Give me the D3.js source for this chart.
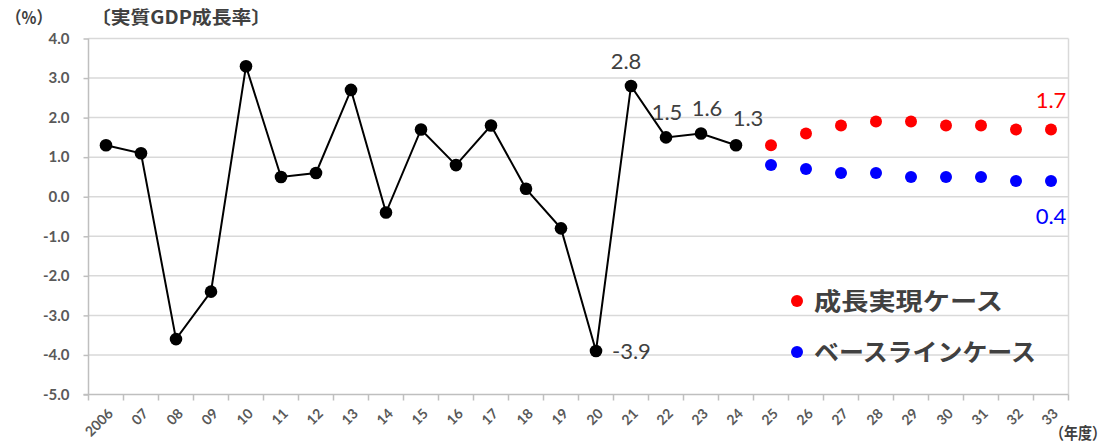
<!DOCTYPE html>
<html>
<head>
<meta charset="utf-8">
<title>実質GDP成長率</title>
<script src="https://cdn.jsdelivr.net/npm/d3@7/dist/d3.min.js"></script>
<style>
  body { margin: 0; background: #fff; }
  .grid line { stroke: #d9d9d9; stroke-width: 1.5; }
  .axis path, .axis line { stroke: #bfbfbf; stroke-width: 1.5; }
  .axis text { font-family: Lato, "Noto Sans", sans-serif; font-weight: bold; fill: #595959; }
</style>
</head>
<body>
<script>
// 年度ラベル
var years = ["2006","07","08","09","10","11","12","13","14","15","16","17","18","19",
             "20","21","22","23","24","25","26","27","28","29","30","31","32","33"];
// 実績 (2006〜2024)
var actual = [1.3, 1.1, -3.6, -2.4, 3.3, 0.5, 0.6, 2.7, -0.4, 1.7, 0.8, 1.8, 0.2, -0.8,
              -3.9, 2.8, 1.5, 1.6, 1.3];
// 成長実現ケース (2025〜2033)
var growthCase = [1.3, 1.6, 1.8, 1.9, 1.9, 1.8, 1.8, 1.7, 1.7];
// ベースラインケース (2025〜2033)
var baseCase = [0.8, 0.7, 0.6, 0.6, 0.5, 0.5, 0.5, 0.4, 0.4];
var yTicks = [4, 3, 2, 1, 0, -1, -2, -3, -4, -5];

var w = 1113, h = 446;
var pLeft = 88.5, pRight = 1068.5, pTop = 38.5, pBottom = 394.5;
var fmt = function(d) { return d.toFixed(1); };

var svg = d3.select("body").append("svg").attr("width", w).attr("height", h);

var x = d3.scaleBand().domain(years).range([pLeft, pRight]).padding(0);
var y = d3.scaleLinear().domain([-5, 4]).range([pBottom, pTop]);
var cx = function(yr) { return x(yr) + x.bandwidth() / 2; };

// 目盛線
svg.append("g").attr("class", "grid")
  .selectAll("line").data(yTicks.filter(function(d) { return d !== -5; })).enter()
  .append("line")
  .attr("x1", pLeft).attr("x2", pRight)
  .attr("y1", function(d) { return y(d); }).attr("y2", function(d) { return y(d); });

// 右枠
svg.append("line").attr("x1", pRight).attr("x2", pRight).attr("y1", pTop).attr("y2", pBottom)
  .attr("stroke", "#d9d9d9").attr("stroke-width", 1.5);

// Y軸
var yAxis = d3.axisLeft(y).tickValues(yTicks).tickFormat(fmt).tickSize(5).tickPadding(14);
var gy = svg.append("g").attr("class", "axis").attr("transform", "translate(" + pLeft + ",0)").call(yAxis);
gy.select(".domain").attr("d", "M0," + pTop + "V" + pBottom);
gy.selectAll("text").style("font-size", "15px");

// X軸 (目盛は区切り位置)
var gx = svg.append("g").attr("class", "axis").attr("transform", "translate(0," + pBottom + ")");
gx.append("line").attr("x1", pLeft - 5).attr("x2", pRight).attr("y1", 0).attr("y2", 0);
gx.selectAll(".tk").data(years.concat(["end"])).enter().append("line").attr("class", "tk")
  .attr("x1", function(d, i) { return pLeft + i * x.bandwidth(); })
  .attr("x2", function(d, i) { return pLeft + i * x.bandwidth(); })
  .attr("y1", 0).attr("y2", 6);
gx.selectAll("text").data(years).enter().append("text")
  .attr("transform", function(d) { return "translate(" + (cx(d) + 1) + ",13) rotate(-45)"; })
  .attr("text-anchor", "end").attr("dy", "0.7em")
  .style("font-size", "14px")
  .text(function(d) { return d; });

// 実績ライン
var actData = actual.map(function(v, i) { return { yr: years[i], v: v }; });
var line = d3.line().x(function(d) { return cx(d.yr); }).y(function(d) { return y(d.v); });
svg.append("path").datum(actData).attr("d", line)
  .attr("fill", "none").attr("stroke", "#000").attr("stroke-width", 2);
svg.selectAll(".act").data(actData).enter().append("circle").attr("class", "act")
  .attr("cx", function(d) { return cx(d.yr); }).attr("cy", function(d) { return y(d.v); })
  .attr("r", 6.3).attr("fill", "#000");

// 見通し
var fYears = years.slice(actual.length);
svg.selectAll(".gr").data(growthCase).enter().append("circle").attr("class", "gr")
  .attr("cx", function(d, i) { return cx(fYears[i]); }).attr("cy", function(d) { return y(d); })
  .attr("r", 6).attr("fill", "#ff0000");
svg.selectAll(".bs").data(baseCase).enter().append("circle").attr("class", "bs")
  .attr("cx", function(d, i) { return cx(fYears[i]); }).attr("cy", function(d) { return y(d); })
  .attr("r", 6).attr("fill", "#0000ff");

// データラベル
var lblFont = "Lato, 'Noto Sans', sans-serif";
function label(yr, v, dx, dy, color, anchor) {
  svg.append("text").attr("x", cx(yr) + dx).attr("y", y(v) + dy)
    .attr("text-anchor", anchor || "middle")
    .style("font-family", lblFont).style("font-size", "22px").style("fill", color || "#404040")
    .text(fmt(v));
}
label("21", 2.8, -5, -17);
label("22", 1.5, 1, -17);
label("23", 1.6, 6, -17);
label("24", 1.3, 12, -19);
label("20", -3.9, 16, 8, "#404040", "start");
label("33", 1.7, 0, -21, "#ff0000");
label("33", 0.4, 0, 43, "#0000ff");

// 凡例
var legend = [["成長実現ケース", "#ff0000", 189], ["ベースラインケース", "#0000ff", 222]];
var lg = svg.selectAll(".lg").data(legend).enter().append("g").attr("class", "lg")
  .attr("transform", function(d, i) { return "translate(797," + (301 + i * 51) + ")"; });
lg.append("circle").attr("r", 6).attr("fill", function(d) { return d[1]; });
lg.append("text").attr("x", 17).attr("dy", "0.36em")
  .attr("textLength", function(d) { return d[2]; }).attr("lengthAdjust", "spacingAndGlyphs")
  .style("font-family", "'Noto Sans CJK JP', sans-serif").style("font-weight", "bold")
  .style("font-size", "24px").style("fill", "#404040")
  .text(function(d) { return d[0]; });

// 見出し・単位
var cjk = "'Noto Sans CJK JP', sans-serif";
svg.append("text").attr("x", 6).attr("y", 24).attr("textLength", 46).attr("lengthAdjust", "spacingAndGlyphs")
  .style("font-family", cjk).style("font-size", "17px")
  .style("font-weight", "bold").style("fill", "#404040").text("（%）");
svg.append("text").attr("x", 91).attr("y", 24).attr("textLength", 180).attr("lengthAdjust", "spacingAndGlyphs")
  .style("font-family", cjk).style("font-size", "18px")
  .style("font-weight", "bold").style("fill", "#404040").text("〔実質GDP成長率〕");
svg.append("text").attr("x", 1050).attr("y", 439).attr("textLength", 56).attr("lengthAdjust", "spacingAndGlyphs")
  .style("font-family", cjk).style("font-size", "16px")
  .style("font-weight", "bold").style("fill", "#404040").text("（年度）");
</script>
</body>
</html>
